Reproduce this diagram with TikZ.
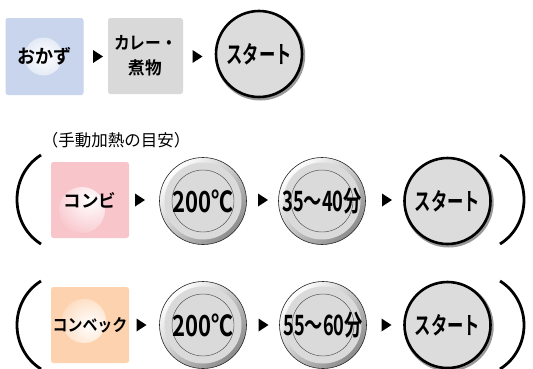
\documentclass[tikz,border=0pt]{standalone}
\usepackage{fontspec}
\usepackage{graphicx}
\newfontfamily\jp{Noto Sans CJK JP}[BoldFont={Noto Sans CJK JP Bold}]
\usetikzlibrary{calc}
\definecolor{blueBox}{HTML}{C8D5EC}
\definecolor{grayBox}{HTML}{D9D9D9}
\definecolor{pinkBox}{HTML}{F8C5CB}
\definecolor{peachBox}{HTML}{FDD3AF}
\definecolor{startFill}{HTML}{DCDCDC}
\definecolor{dialFace}{HTML}{DADADA}
\newcommand\sq[3]{{\fontsize{#1}{#1}\selectfont\scalebox{#2}[1]{#3}}}
\newcommand\tri[2]{\fill[black] (#1,#2) ++(-5,-6.5) -- ++(10,6.5) -- ++(-10,6.5) -- cycle;}
\begin{document}
\begin{tikzpicture}[x=1pt,y=-1pt,
  every node/.style={font=\jp\bfseries},
  box/.style={rounded corners=2.5pt, minimum width=78pt, minimum height=77pt, inner sep=0pt, align=center},
  glow/.style n args={4}{path picture={\shade[inner color=white, outer color=#1] ($(path picture bounding box.center)+(#2,#3)$) circle (#4pt);}},
  dial/.style={circle, minimum size=87pt, inner sep=0pt, draw=black!85, line width=0.6pt,
    top color=white, bottom color=black!45, shading angle=45,
    path picture={
      \fill[dialFace] (path picture bounding box.center) circle (38.5pt);
      \draw[black!70, line width=0.45pt] (path picture bounding box.center) circle (31pt);
    }},
  startbtn/.style={circle, minimum size=86pt, inner sep=0pt, fill=startFill, draw=black, line width=2.6pt},
  paren/.style={line width=2.8pt},
  ]
\useasboundingbox (0,0) rectangle (533,368);
\fill[white] (0,0) rectangle (533,368);

% ---- row 1
\node[box, fill=blueBox, glow={blueBox}{-1}{0}{19}] (okazu) at (44.5,56.5) {\sq{19}{0.95}{おかず}};
\tri{98}{56.5}
\node[box, fill=grayBox, minimum width=75pt, minimum height=76pt, font=\jp\bfseries\fontsize{17.5}{25}\selectfont] (curry) at (145.5,56) {\scalebox{0.9}[1]{カレー・}\\\scalebox{0.95}[1]{煮物}};
\tri{197.5}{56.5}
\fill[black!40] (260.2,55.5) circle (45pt);
\node[startbtn] (start1) at (259,54) {\sq{24}{0.68}{スタート}};

% ---- title
\node[font=\jp\fontsize{16.5}{16.5}\selectfont] (title) at (116,140) {（手動加熱の目安）};

% ---- row 2
\draw[paren] (41,155) .. controls (9,175) and (9,224) .. (41,244);
\node[box, fill=pinkBox, minimum height=76pt, glow={pinkBox}{-8}{10}{23}] (combi) at (90,200) {\sq{17.5}{1}{コンビ}};
\tri{140}{200}
\node[dial] (temp2) at (203,201) {\sq{29}{0.76}{200℃}};
\tri{263}{200}
\node[dial] (time2) at (322,201) {\sq{28}{0.65}{35〜40分}};
\tri{387}{200}
\fill[black!40] (448.7,202.5) circle (45pt);
\node[startbtn] (start2) at (447.5,201) {\sq{24}{0.68}{スタート}};
\draw[paren] (500,155) .. controls (532,175) and (532,224) .. (500,244);

% ---- row 3
\draw[paren] (41,281) .. controls (9,301) and (9,349) .. (41,369);
\node[box, fill=peachBox, minimum height=76pt, glow={peachBox}{-6}{-4}{22}] (convec) at (90,325) {\sq{17}{0.88}{コンベック}};
\tri{141.5}{325}
\node[dial] (temp3) at (203,325) {\sq{29}{0.76}{200℃}};
\tri{263.5}{325}
\node[dial] (time3) at (323,325) {\sq{28}{0.65}{55〜60分}};
\tri{386.5}{325}
\fill[black!40] (448.7,326.5) circle (45pt);
\node[startbtn] (start3) at (447.5,325) {\sq{24}{0.68}{スタート}};
\draw[paren] (500,281) .. controls (532,301) and (532,349) .. (500,369);
\end{tikzpicture}
\end{document}
